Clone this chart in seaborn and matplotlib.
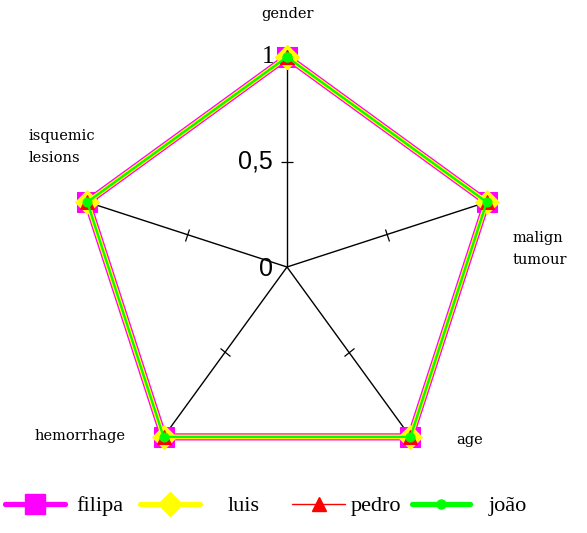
import numpy as np
import pandas as pd
import matplotlib
matplotlib.use("Agg")
import matplotlib.pyplot as plt
from matplotlib.lines import Line2D
from matplotlib.markers import MarkerStyle
from matplotlib.transforms import Affine2D
import seaborn as sns

# ---- data -------------------------------------------------------------
categories = ["gender", "malign\ntumour", "age", "hemorrhage", "isquemic\nlesions"]
filipa = [1, 1, 1, 1, 1]
luis = [1, 1, 1, 1, 1]
pedro = [1, 1, 1, 1, 1]
joao = [1, 1, 1, 1, 1]
series_names = ["filipa", "luis", "pedro", "jo\u00e3o"]
r_ticks = [0, 0.5, 1]
r_tick_labels = ["0", "0,5", "1"]

# ---- style ------------------------------------------------------------
sns.set_theme(style="white")
plt.rcParams["font.family"] = ["DejaVu Serif"]
plt.rcParams["text.color"] = "black"

W, H, DPI = 587, 533, 100
fig = plt.figure(figsize=(W / DPI, H / DPI), dpi=DPI)
fig.patch.set_facecolor("white")

cx, cy, R = 287, 267, 210
ax = fig.add_axes([(cx - R) / W, (H - cy - R) / H, 2 * R / W, 2 * R / H],
                  projection="polar")
ax.set_theta_zero_location("N")
ax.set_theta_direction(-1)
ax.set_ylim(0, 1)
ax.set_axis_off()

n = len(categories)
angles = np.arange(n) * 2 * np.pi / n

# spokes with a tick mark at the middle of each one
for a in angles:
    ax.plot([a, a], [0, 1], color="black", lw=1.0, zorder=1, clip_on=False)
    tick = MarkerStyle("_", transform=Affine2D().rotate_deg(-np.degrees(a)))
    ax.plot([a], [0.5], marker=tick, markersize=9, markeredgewidth=0.9,
            color="black", linestyle="none", zorder=1, clip_on=False)

styles = {
    "filipa": dict(color="#ff00ff", lw=5.2, marker="s", ms=14),
    "luis": dict(color="#ffff00", lw=3.4, marker="D", ms=12),
    "pedro": dict(color="#ff0000", lw=0.8, marker="^", ms=10),
    "jo\u00e3o": dict(color="#00ff00", lw=1.6, marker="o", ms=6.5),
}

values = {"filipa": filipa, "luis": luis, "pedro": pedro, "jo\u00e3o": joao}
theta_closed = np.append(angles, 2 * np.pi)
for i, name in enumerate(series_names):
    vals = values[name]
    df = pd.DataFrame({"theta": theta_closed, "r": vals + vals[:1]})
    st = styles[name]
    sns.lineplot(data=df, x="theta", y="r", sort=False, estimator=None, ax=ax,
                 color=st["color"], linewidth=st["lw"], marker=st["marker"],
                 markersize=st["ms"], markeredgecolor=st["color"],
                 markerfacecolor=st["color"], zorder=3 + i, legend=False,
                 clip_on=False)
ax.set_axis_off()
ax.set_ylim(0, 1)

# radial value labels along the first spoke
value_fonts = {"0": "Liberation Sans", "0,5": "Liberation Sans", "1": "Liberation Serif"}
for rv, lab in zip(r_ticks, r_tick_labels):
    ax.annotate(lab, xy=(0, rv), xytext=(-10 if rv < 1 else -9, -1.5 if rv == 0 else 0),
                textcoords="offset points", ha="right", va="center",
                fontsize=18, family=[value_fonts[lab]], zorder=10)

# category labels around the outside
label_offsets = [(0, 43, "center", "center"),
                 (26, -47, "left", "center"),
                 (46, -3, "left", "center"),
                 (-38, 1, "right", "center"),
                 (-59, 55, "left", "center")]
for a, lab, (dx, dy, ha, va) in zip(angles, categories, label_offsets):
    ax.annotate(lab, xy=(a, 1), xytext=(dx * 0.72, dy * 0.72),
                textcoords="offset points", ha=ha, va=va,
                fontsize=10.5, linespacing=1.75, multialignment="left")

# legend entries laid out in a row beneath the chart
legend_x = [5, 140, 292, 412]
legend_len = [2.7, 2.7, 2.4, 2.6]
legend_pad = [0.5, 1.25, 0.25, 0.85]
legend_lw = {"filipa": 3.8, "luis": 3.8, "pedro": 1.0, "jo\u00e3o": 3.8}
for name, x0, hl, tp in zip(series_names, legend_x, legend_len, legend_pad):
    st = styles[name]
    h = Line2D([], [], color=st["color"], lw=legend_lw[name], marker=st["marker"],
               markersize=st["ms"], markeredgecolor=st["color"],
               markerfacecolor=st["color"])
    fig.legend([h], [name], loc="center left",
               bbox_to_anchor=(x0 / W, 1 - 506 / H),
               frameon=False, handlelength=hl,
               handletextpad=tp, borderpad=0, borderaxespad=0,
               prop={"family": ["Liberation Serif"], "size": 16})

fig.savefig("out.png", dpi=DPI, facecolor="white")
